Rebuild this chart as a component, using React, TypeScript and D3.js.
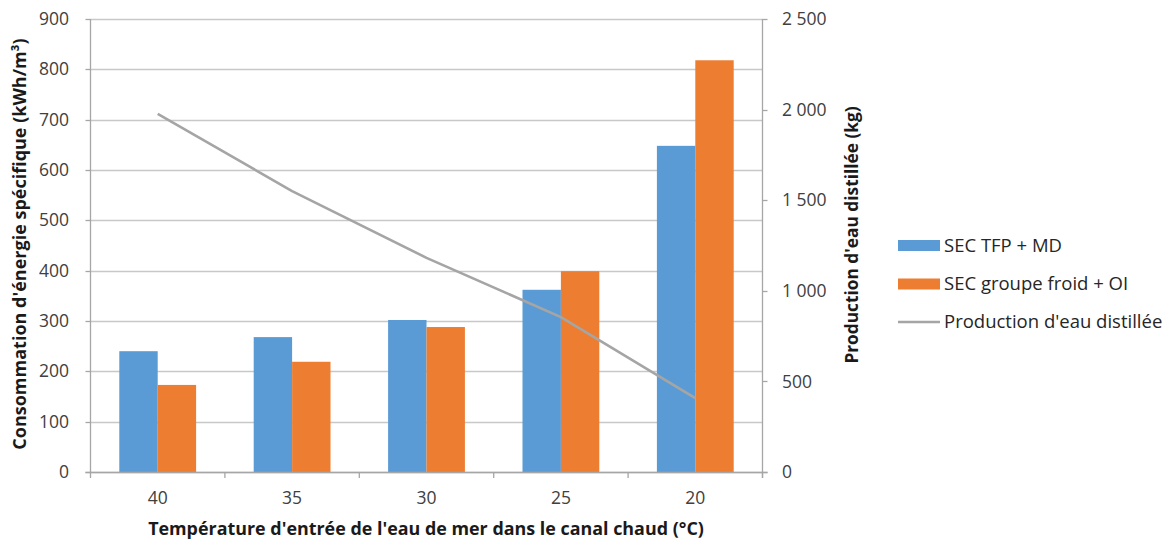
import React from "react";
import * as d3 from "d3";

const categories = ["40", "35", "30", "25", "20"];
const secTfpMd = [240, 268, 302, 362, 648];
const secGroupeFroid = [173, 219, 288, 399, 818];
const production = [1977, 1550, 1182, 855, 408];
const leftTicks = [0, 100, 200, 300, 400, 500, 600, 700, 800, 900];
const rightTicks = [0, 500, 1000, 1500, 2000, 2500];
const seriesNames = ["SEC TFP + MD", "SEC groupe froid + OI", "Production d'eau distillée"];

const W = 1174;
const H = 545;
const plot = { left: 90.5, right: 762.5, top: 19, bottom: 472 };
const BLUE = "#5B9BD5";
const ORANGE = "#ED7D31";
const GRAY = "#A5A5A5";
const FONT = "'Open Sans', sans-serif";

export default function App() {
  const x = d3.scaleBand<string>().domain(categories).range([plot.left, plot.right]);
  const yL = d3.scaleLinear().domain([0, 900]).range([plot.bottom, plot.top]);
  const yR = d3.scaleLinear().domain([0, 2500]).range([plot.bottom, plot.top]);
  const bw = x.bandwidth();
  const barW = bw / 3.5;
  const fmtR = (v: number) => (v >= 1000 ? `${Math.floor(v / 1000)} ${String(v % 1000).padStart(3, "0")}` : String(v));
  const line = d3
    .line<number>()
    .x((_, i) => (x(categories[i]) as number) + bw / 2)
    .y((d) => yR(d));

  return (
    <svg width={W} height={H} style={{ position: "absolute", left: 0, top: 0, background: "#fff" }}>
      <rect x={0} y={0} width={W} height={H} fill="#fff" />
      {leftTicks.map((t) => (
        <line key={"g" + t} x1={plot.left} x2={plot.right} y1={Math.round(yL(t)) + 0.5} y2={Math.round(yL(t)) + 0.5} stroke="#C8C8C8" strokeWidth={1.3} />
      ))}
      {categories.map((c, i) => {
        const x0 = (x(c) as number) + (bw - 2 * barW) / 2;
        return (
          <g key={"b" + c}>
            <rect x={x0} y={yL(secTfpMd[i])} width={barW} height={plot.bottom - yL(secTfpMd[i])} fill={BLUE} />
            <rect x={x0 + barW} y={yL(secGroupeFroid[i])} width={barW} height={plot.bottom - yL(secGroupeFroid[i])} fill={ORANGE} />
          </g>
        );
      })}
      <path d={line(production) || ""} fill="none" stroke={GRAY} strokeWidth={2.6} strokeLinejoin="round" />
      <line x1={plot.left} x2={plot.left} y1={plot.top} y2={plot.bottom + 6} stroke="#A6A6A6" strokeWidth={1.3} />
      <line x1={plot.right} x2={plot.right} y1={plot.top} y2={plot.bottom + 6} stroke="#A6A6A6" strokeWidth={1.3} />
      <line x1={plot.left - 5} x2={plot.right + 5} y1={plot.bottom + 0.5} y2={plot.bottom + 0.5} stroke="#A6A6A6" strokeWidth={1.3} />
      {leftTicks.map((t) => (
        <line key={"lt" + t} x1={plot.left - 5} x2={plot.left} y1={Math.round(yL(t)) + 0.5} y2={Math.round(yL(t)) + 0.5} stroke="#A6A6A6" strokeWidth={1.3} />
      ))}
      {rightTicks.map((t) => (
        <line key={"rt" + t} x1={plot.right} x2={plot.right + 5} y1={Math.round(yR(t)) + 0.5} y2={Math.round(yR(t)) + 0.5} stroke="#A6A6A6" strokeWidth={1.3} />
      ))}
      {categories.map((c) => (
        <line key={"xt" + c} x1={(x(c) as number) + bw} x2={(x(c) as number) + bw} y1={plot.bottom} y2={plot.bottom + 6} stroke="#A6A6A6" strokeWidth={1.3} />
      ))}
      {leftTicks.map((t) => (
        <text key={"ll" + t} x={69} y={yL(t)} dy="0.35em" textAnchor="end" fontFamily={FONT} fontSize={17.5} fill="#404040">
          {t}
        </text>
      ))}
      {rightTicks.map((t) => (
        <text key={"rl" + t} x={782} y={yR(t)} dy="0.35em" textAnchor="start" fontFamily={FONT} fontSize={17.5} fill="#404040">
          {fmtR(t)}
        </text>
      ))}
      {categories.map((c) => (
        <text key={"xl" + c} x={(x(c) as number) + bw / 2} y={498} dy="0.35em" textAnchor="middle" fontFamily={FONT} fontSize={17.5} fill="#404040">
          {c}
        </text>
      ))}
      <text x={426} y={529} dy="0.35em" textAnchor="middle" fontFamily={FONT} fontSize={17.9} fontWeight="bold" fill="#1a1a1a">
        Température d'entrée de l'eau de mer dans le canal chaud (°C)
      </text>
      <text transform={`translate(20,${244}) rotate(-90)`} dy="0.35em" textAnchor="middle" fontFamily={FONT} fontSize={18} fontWeight="bold" fill="#1a1a1a">
        Consommation d'énergie spécifique (kWh/m³)
      </text>
      <text transform={`translate(852,${235}) rotate(-90)`} dy="0.35em" textAnchor="middle" fontFamily={FONT} fontSize={17.3} fontWeight="bold" fill="#1a1a1a">
        Production d'eau distillée (kg)
      </text>
      <rect x={898} y={240} width={42} height={11} fill={BLUE} />
      <text x={944} y={245.5} dy="0.35em" fontFamily={FONT} fontSize={18.5} fill="#262626">{seriesNames[0]}</text>
      <rect x={898} y={278.5} width={42} height={11} fill={ORANGE} />
      <text x={944} y={284} dy="0.35em" fontFamily={FONT} fontSize={18.5} fill="#262626">{seriesNames[1]}</text>
      <line x1={898} x2={940} y1={322} y2={322} stroke={GRAY} strokeWidth={2.6} />
      <text x={944} y={322} dy="0.35em" fontFamily={FONT} fontSize={18.5} fill="#262626">{seriesNames[2]}</text>
    </svg>
  );
}
